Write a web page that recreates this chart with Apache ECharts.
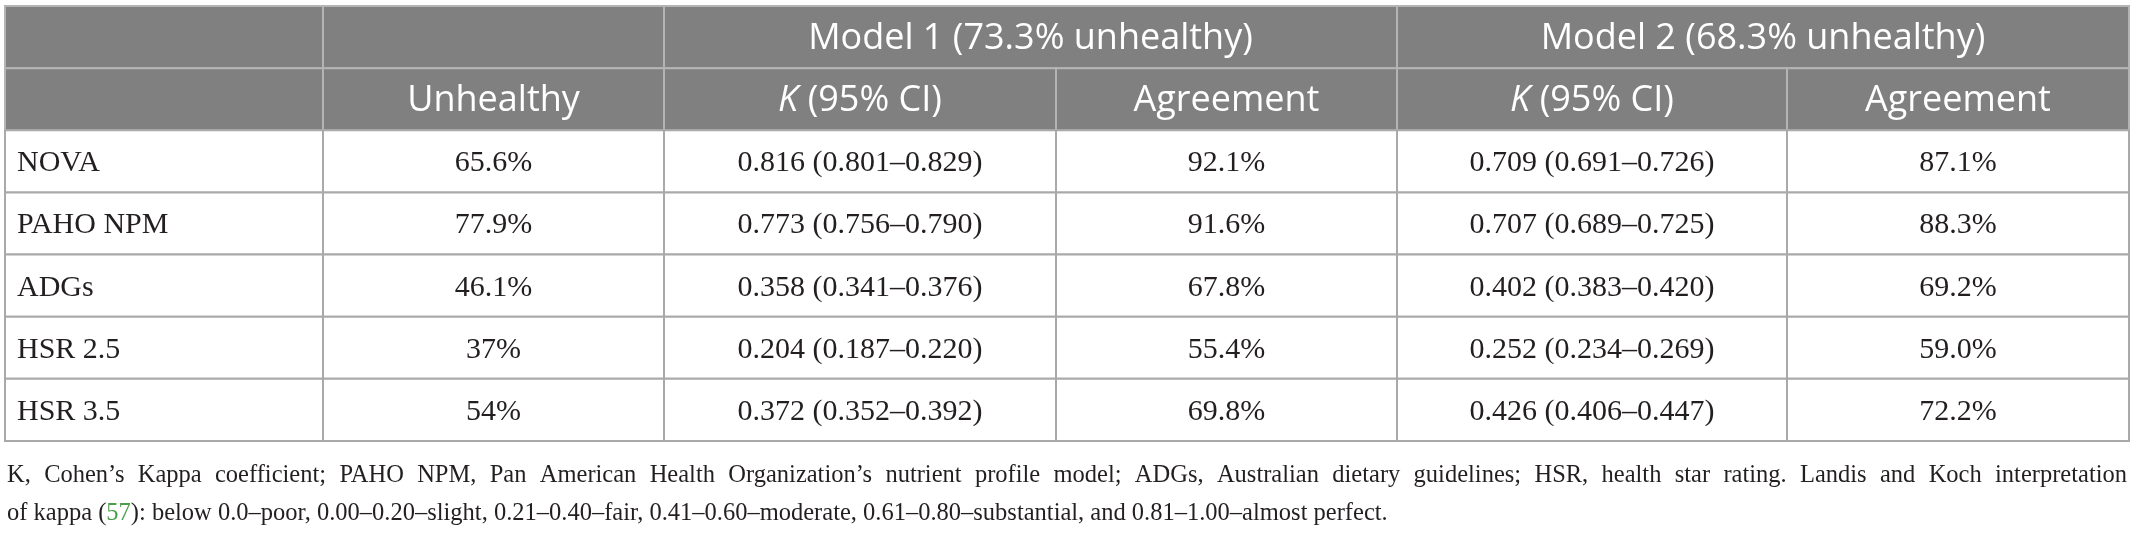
<!DOCTYPE html>
<html>
<head>
<meta charset="utf-8">
<script src="https://cdn.jsdelivr.net/npm/echarts@6/dist/echarts.min.js"></script>
<style>
  html, body { margin: 0; padding: 0; background: #fff; }
  #chart { width: 2136px; height: 534px; }
</style>
</head>
<body>
<div id="chart"></div>
<script>
// table data
const methods = ['NOVA', 'PAHO NPM', 'ADGs', 'HSR 2.5', 'HSR 3.5'];
const unhealthy = [65.6, 77.9, 46.1, 37, 54];
const m1Kappa = [0.816, 0.773, 0.358, 0.204, 0.372];
const m1Low = [0.801, 0.756, 0.341, 0.187, 0.352];
const m1High = [0.829, 0.790, 0.376, 0.220, 0.392];
const m1Agree = [92.1, 91.6, 67.8, 55.4, 69.8];
const m2Kappa = [0.709, 0.707, 0.402, 0.252, 0.426];
const m2Low = [0.691, 0.689, 0.383, 0.234, 0.406];
const m2High = [0.726, 0.725, 0.420, 0.269, 0.447];
const m2Agree = [87.1, 88.3, 69.2, 59.0, 72.2];
const modelHeaders = ['Model 1 (73.3% unhealthy)', 'Model 2 (68.3% unhealthy)'];
const subHeaders = ['', 'Unhealthy', 'K (95% CI)', 'Agreement', 'K (95% CI)', 'Agreement'];
const noteLine1 = 'K, Cohen’s Kappa coefficient; PAHO NPM, Pan American Health Organization’s nutrient profile model; ADGs, Australian dietary guidelines; HSR, health star rating. Landis and Koch interpretation';
const noteLine2 = ['of kappa (', '57', '): below 0.0–poor, 0.00–0.20–slight, 0.21–0.40–fair, 0.41–0.60–moderate, 0.61–0.80–substantial, and 0.81–1.00–almost perfect.'];

// layout
const colWidths = [318, 341, 392, 341, 390, 342];
const colEdges = [0];
colWidths.forEach(w => colEdges.push(colEdges[colEdges.length - 1] + w));
const totalW = colEdges[colEdges.length - 1];
const nRows = 7;

const sans = '"Open Sans", sans-serif';
const serif = '"Liberation Serif", serif';
const noteSize = 24.5;
const noteColor = '#231f20';

const fmtK = (k, lo, hi) => k.toFixed(3) + ' (' + lo.toFixed(3) + '–' + hi.toFixed(3) + ')';

// cells: col, row, span, text
const cells = [];
cells.push({ col: 0, row: 0, span: 1, text: '', head: true });
cells.push({ col: 1, row: 0, span: 1, text: '', head: true });
cells.push({ col: 2, row: 0, span: 2, text: modelHeaders[0], head: true });
cells.push({ col: 4, row: 0, span: 2, text: modelHeaders[1], head: true });
subHeaders.forEach((t, c) => cells.push({ col: c, row: 1, span: 1, text: t, head: true }));
methods.forEach((m, i) => {
  const r = i + 2;
  const vals = [
    m,
    unhealthy[i] + '%',
    fmtK(m1Kappa[i], m1Low[i], m1High[i]),
    m1Agree[i].toFixed(1) + '%',
    fmtK(m2Kappa[i], m2Low[i], m2High[i]),
    m2Agree[i].toFixed(1) + '%'
  ];
  vals.forEach((t, c) => cells.push({ col: c, row: r, span: 1, text: t, head: false, left: c === 0 }));
});

const cellData = cells.map(c => [colEdges[c.col], c.row, colEdges[c.col + c.span], c.row + 1]);

function renderItem(params, api) {
  const c = cells[params.dataIndex];
  const p0 = api.coord([api.value(0), api.value(1)]);
  const p1 = api.coord([api.value(2), api.value(3)]);
  const w = p1[0] - p0[0], h = p1[1] - p0[1];
  const children = [{
    type: 'rect',
    shape: { x: p0[0], y: p0[1], width: w, height: h },
    style: {
      fill: c.head ? '#808080' : '#ffffff',
      stroke: c.head ? '#b4b4b4' : '#a9a9a9',
      lineWidth: 2
    }
  }];
  if (c.text) {
    let style;
    if (c.head) {
      const isK = c.text.indexOf('K ') === 0;
      style = {
        text: isK ? '{i|K}{n|' + c.text.slice(1) + '}' : c.text,
        rich: {
          i: { fontStyle: 'italic', fontSize: 36, fontFamily: sans, fill: '#ffffff' },
          n: { fontSize: 36, fontFamily: sans, fill: '#ffffff' }
        },
        fontSize: 36,
        fontFamily: sans,
        fill: '#ffffff'
      };
    } else {
      style = { text: c.text, fontSize: 30, fontFamily: serif, fill: '#231f20' };
    }
    style.x = c.left ? p0[0] + 12 : p0[0] + w / 2;
    style.y = p0[1] + h / 2 + 2;
    style.textAlign = c.left ? 'left' : 'center';
    style.textVerticalAlign = 'middle';
    children.push({ type: 'text', style: style });
  }
  return { type: 'group', children: children };
}

// footnote: first line justified across the table width, like the source
const measure = document.createElement('canvas').getContext('2d');
measure.font = noteSize + 'px "Liberation Serif"';
const noteLeft = 7, noteRight = 2127;
const words = noteLine1.split(' ');
const wordW = words.map(w => measure.measureText(w).width);
const gap = (noteRight - noteLeft - wordW.reduce((a, b) => a + b, 0)) / (words.length - 1);
const noteEls = [];
let cx = noteLeft;
words.forEach((w, i) => {
  noteEls.push({
    type: 'text', x: cx, y: 476,
    style: { text: w, fontSize: noteSize, fontFamily: serif, fill: noteColor, verticalAlign: 'middle' }
  });
  cx += wordW[i] + gap;
});
noteEls.push({
  type: 'text', x: noteLeft, y: 514,
  style: {
    text: '{t|' + noteLine2[0] + '}{g|' + noteLine2[1] + '}{t|' + noteLine2[2] + '}',
    verticalAlign: 'middle',
    rich: {
      t: { fontSize: noteSize, fontFamily: serif, fill: noteColor },
      g: { fontSize: noteSize, fontFamily: serif, fill: '#4a9e4a' }
    }
  }
});

const chart = echarts.init(document.getElementById('chart'));
chart.setOption({
  animation: false,
  backgroundColor: '#ffffff',
  graphic: noteEls,
  grid: { left: 5, top: 6, width: totalW, height: 435 },
  xAxis: { type: 'value', min: 0, max: totalW, show: false },
  yAxis: { type: 'value', min: 0, max: nRows, inverse: true, show: false },
  series: [{
    type: 'custom',
    renderItem: renderItem,
    encode: { x: [0, 2], y: [1, 3] },
    data: cellData,
    clip: false
  }]
});
</script>
</body>
</html>
